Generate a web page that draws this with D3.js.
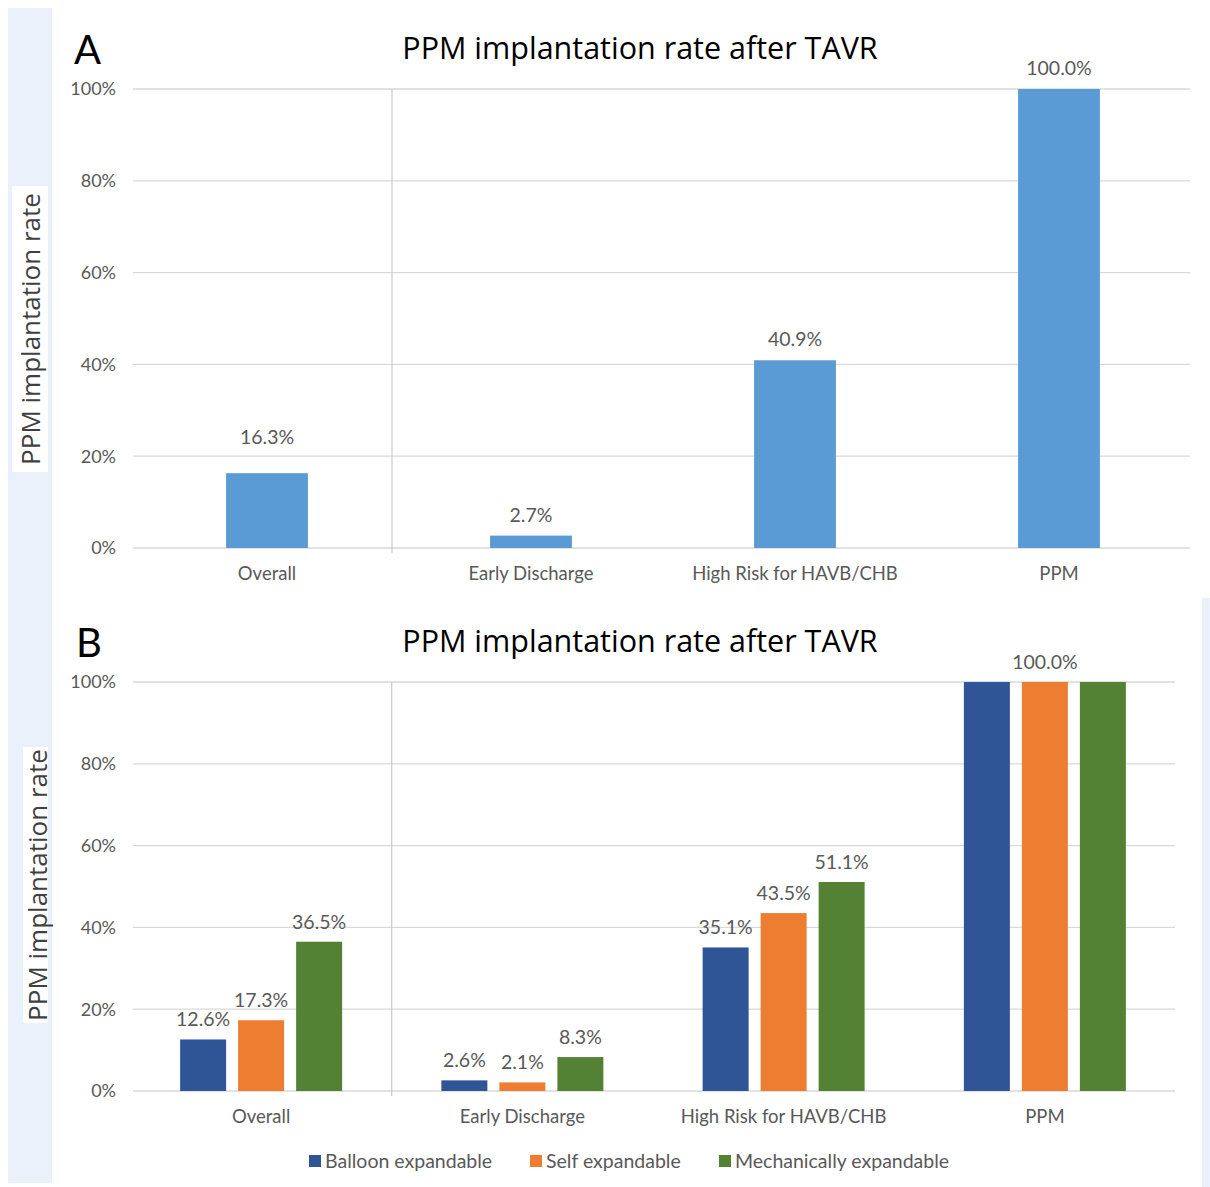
<!DOCTYPE html>
<html>
<head>
<meta charset="utf-8">
<script src="https://cdn.jsdelivr.net/npm/d3@7"></script>
<style>
  body { margin: 0; background: #fff; }
  text { font-family: Lato, 'Open Sans', sans-serif; }
  .sans { font-family: 'Open Sans', sans-serif; }
</style>
</head>
<body>
<svg id="chart" width="1210" height="1187"></svg>
<script>
const categories = ['Overall', 'Early Discharge', 'High Risk for HAVB/CHB', 'PPM']
const overallRates = [16.3, 2.7, 40.9, 100.0]
const seriesNames = ['Balloon expandable', 'Self expandable', 'Mechanically expandable']
const balloonRates = [12.6, 2.6, 35.1, 100.0]
const selfRates = [17.3, 2.1, 43.5, 100.0]
const mechRates = [36.5, 8.3, 51.1, 100.0]
const yTicks = [0, 20, 40, 60, 80, 100]
const chartTitle = 'PPM implantation rate after TAVR'
const yLabel = 'PPM implantation rate'

const seriesColors = ['#2f5597', '#ed7d31', '#548235']
const singleColor = '#5b9bd5'
const textColor = '#595959'
const gridColor = '#d9d9d9'
// label lift above the bar in panel A (the first one sits higher in the original)
const liftA = [29, 14, 14, 14]

const svg = d3.select('#chart')

// background strips
svg.append('rect').attr('x', 8).attr('y', 8).attr('width', 44).attr('height', 1175).attr('fill', '#eaf1fa')
svg.append('rect').attr('x', 1202).attr('y', 598).attr('width', 8).attr('height', 589).attr('fill', '#eaf1fa')

let drawFrame = function (g, opt) {
  const y = d3.scaleLinear().domain([0, 100]).range([opt.bottom, opt.top])
  // grid + ticks
  g.selectAll('.grid').data(yTicks).enter().append('line')
    .attr('x1', opt.gridLeft).attr('x2', opt.gridRight)
    .attr('y1', d => y(d)).attr('y2', d => y(d))
    .attr('stroke', gridColor).attr('stroke-width', 1.3)
  g.selectAll('.ytick').data(yTicks).enter().append('text')
    .attr('x', 116).attr('y', d => y(d)).attr('dy', '0.35em')
    .attr('text-anchor', 'end').attr('fill', textColor).style('font-size', '18px')
    .text(d => d + '%')
  // separator line
  g.append('line')
    .attr('x1', opt.sepX).attr('x2', opt.sepX)
    .attr('y1', opt.top).attr('y2', opt.bottom + 5)
    .attr('stroke', '#bfbfbf').attr('stroke-width', 1)
  // y label box
  g.append('rect').attr('x', opt.labelBox[0]).attr('y', opt.labelBox[1])
    .attr('width', opt.labelBox[2]).attr('height', opt.labelBox[3]).attr('fill', '#fff')
  g.append('text').attr('class', 'sans')
    .attr('transform', `translate(${opt.labelX},${(opt.labelBox[1] + opt.labelBox[1] + opt.labelBox[3]) / 2}) rotate(-90)`)
    .attr('text-anchor', 'middle').attr('dy', '0.35em')
    .attr('fill', '#404040').style('font-size', '26px')
    .text(yLabel)
  // title and panel letter
  g.append('text').attr('class', 'sans').attr('x', 640).attr('y', opt.titleY).attr('text-anchor', 'middle')
    .attr('fill', '#000').style('font-size', '30.5px').text(chartTitle)
  g.append('text').attr('x', opt.letterX).attr('y', opt.titleY + 5)
    .attr('fill', '#000').style('font-size', '40px').text(opt.letter)
  return y
}

// ---- Panel A ----
const gA = svg.append('g')
const xA = d3.scaleBand().domain(categories).range([135, 1191])
  .paddingInner(0.69).paddingOuter(0.345)
const yA = drawFrame(gA, {
  top: 89, bottom: 548, gridLeft: 133, gridRight: 1190,
  sepX: xA(categories[1]) - xA.step() * 0.345 - 7,
  labelBox: [12, 186, 36, 286], labelX: 31,
  titleY: 59, letterX: 74, letter: 'A'
})
gA.selectAll('.bar').data(overallRates).enter().append('rect')
  .attr('x', (d, i) => xA(categories[i]))
  .attr('y', d => yA(d))
  .attr('width', xA.bandwidth())
  .attr('height', d => yA(0) - yA(d))
  .attr('fill', singleColor)
gA.selectAll('.val').data(overallRates).enter().append('text')
  .attr('x', (d, i) => xA(categories[i]) + xA.bandwidth() / 2)
  .attr('y', (d, i) => yA(d) - liftA[i])
  .attr('text-anchor', 'middle').attr('fill', textColor).style('font-size', '19.5px')
  .text(d => d.toFixed(1) + '%')
gA.selectAll('.cat').data(categories).enter().append('text')
  .attr('x', d => xA(d) + xA.bandwidth() / 2)
  .attr('y', 580)
  .attr('text-anchor', 'middle').attr('fill', textColor).style('font-size', '18.5px')
  .text(d => d)

// ---- Panel B ----
const gB = svg.append('g')
const xB = d3.scaleBand().domain(categories).range([130.5, 1175.5])
const xInner = d3.scaleBand().domain(seriesNames).range([-81, 81]).paddingInner(0.207)
const yB = drawFrame(gB, {
  top: 682, bottom: 1091, gridLeft: 133, gridRight: 1175,
  sepX: xB(categories[1]),
  labelBox: [23, 747, 25, 276], labelX: 38,
  titleY: 652, letterX: 76, letter: 'B'
})
const seriesData = [balloonRates, selfRates, mechRates]
const groupData = []
categories.forEach((c, i) => {
  seriesNames.forEach((s, j) => {
    groupData.push({ cat: c, series: s, idx: j, value: seriesData[j][i] })
  })
})
const barX = d => xB(d.cat) + xB.bandwidth() / 2 + xInner(d.series)
gB.selectAll('.bar').data(groupData).enter().append('rect')
  .attr('x', barX)
  .attr('y', d => yB(d.value))
  .attr('width', xInner.bandwidth())
  .attr('height', d => yB(0) - yB(d.value))
  .attr('fill', d => seriesColors[d.idx])
// the three 100% labels sit on top of each other, only one shows
gB.selectAll('.val').data(groupData.filter(d => d.cat !== 'PPM' || d.idx === 1)).enter().append('text')
  .attr('x', d => barX(d) + xInner.bandwidth() / 2)
  .attr('y', d => yB(d.value) - 13)
  .attr('text-anchor', 'middle').attr('fill', textColor).style('font-size', '19.5px')
  .text(d => d.value.toFixed(1) + '%')
gB.selectAll('.cat').data(categories).enter().append('text')
  .attr('x', d => xB(d) + xB.bandwidth() / 2)
  .attr('y', 1123)
  .attr('text-anchor', 'middle').attr('fill', textColor).style('font-size', '18.5px')
  .text(d => d)

// legend
const legendX = [309, 530, 719]
const legend = gB.selectAll('.leg').data(seriesNames).enter().append('g')
  .attr('transform', (d, i) => `translate(${legendX[i]},1161)`)
legend.append('rect').attr('x', 0).attr('y', -6).attr('width', 12).attr('height', 12)
  .attr('fill', (d, i) => seriesColors[i])
legend.append('text').attr('x', 16).attr('dy', '0.35em')
  .attr('fill', textColor).style('font-size', '19.5px').text(d => d)
</script>
</body>
</html>
